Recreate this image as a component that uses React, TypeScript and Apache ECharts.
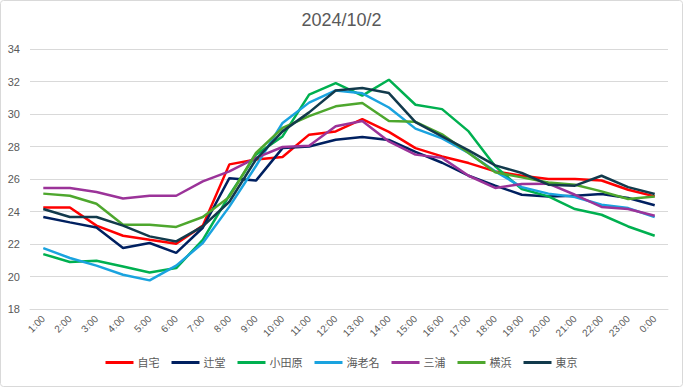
import React, { useEffect, useRef } from "react";
import * as echarts from "echarts";

const hours = ["1:00","2:00","3:00","4:00","5:00","6:00","7:00","8:00","9:00","10:00","11:00","12:00","13:00","14:00","15:00","16:00","17:00","18:00","19:00","20:00","21:00","22:00","23:00","0:00"];

const jitaku = [24.25, 24.25, 23.13, 22.51, 22.26, 22.02, 23.13, 26.9, 27.2, 27.35, 28.73, 28.93, 29.69, 28.9, 27.9, 27.39, 26.98, 26.47, 26.2, 26.0, 26.0, 25.91, 25.34, 24.93];
const tsujido = [23.66, 23.33, 23.02, 21.75, 22.06, 21.45, 23.0, 26.05, 25.9, 27.9, 28.0, 28.42, 28.58, 28.4, 27.67, 27.0, 26.2, 25.59, 25.03, 24.93, 24.97, 25.08, 24.83, 24.38];
const odawara = [21.38, 20.89, 20.97, 20.62, 20.25, 20.52, 22.26, 25.0, 27.5, 28.62, 31.19, 31.9, 31.13, 32.11, 30.57, 30.3, 28.93, 26.78, 25.38, 24.93, 24.15, 23.8, 23.08, 22.51];
const ebina = [21.75, 21.14, 20.67, 20.11, 19.76, 20.67, 22.06, 24.3, 26.8, 29.45, 30.7, 31.45, 31.27, 30.4, 29.1, 28.5, 27.6, 26.47, 25.5, 25.1, 24.89, 24.42, 24.21, 23.66];
const miura = [25.45, 25.45, 25.2, 24.8, 24.97, 24.97, 25.85, 26.47, 27.3, 27.97, 28.05, 29.24, 29.57, 28.31, 27.5, 27.3, 26.2, 25.45, 25.69, 25.71, 25.03, 24.28, 24.15, 23.74];
const yokohama = [25.1, 24.97, 24.48, 23.19, 23.19, 23.05, 23.66, 24.9, 27.6, 29.14, 29.87, 30.47, 30.68, 29.57, 29.52, 28.75, 27.6, 26.41, 26.1, 25.79, 25.65, 25.24, 24.77, 24.93];
const tokyo = [24.15, 23.66, 23.66, 23.13, 22.47, 22.16, 23.08, 24.6, 27.2, 28.93, 30.1, 31.45, 31.6, 31.29, 29.5, 28.62, 27.76, 26.84, 26.37, 25.65, 25.59, 26.2, 25.5, 25.08];

const seriesNames = ["自宅", "辻堂", "小田原", "海老名", "三浦", "横浜", "東京"];
const seriesData = [jitaku, tsujido, odawara, ebina, miura, yokohama, tokyo];
const seriesColors = ["#FF0000", "#002060", "#00B050", "#1AA3DF", "#9B3399", "#4EA72E", "#123A4C"];

const FONT = '"Liberation Sans", "Noto Sans CJK JP", sans-serif';

export default function App() {
  const ref = useRef<HTMLDivElement>(null);
  useEffect(() => {
    if (!ref.current) return;
    const chart = echarts.init(ref.current, undefined, { renderer: "svg" });
    chart.setOption({
      animation: false,
      backgroundColor: "#FFFFFF",
      textStyle: { fontFamily: FONT },
      title: {
        text: "2024/10/2",
        left: "center",
        top: 11,
        padding: 0,
        textStyle: { fontSize: 18, fontWeight: "normal", color: "#595959", fontFamily: FONT },
      },
      graphic: [
        {
          type: "rect",
          shape: { x: 0.5, y: 0.5, width: 682, height: 386, r: 3 },
          style: { fill: "none", stroke: "#D9D9D9", lineWidth: 1 },
          silent: true,
          z: -1,
        },
      ],
      legend: {
        bottom: 14,
        left: "center",
        icon: "rect",
        itemWidth: 28,
        itemHeight: 3,
        itemGap: 12,
        textStyle: { fontSize: 11, color: "#595959", fontFamily: FONT, padding: [0, 0, 0, -1] },
        data: seriesNames,
      },
      grid: { left: 30, right: 15, top: 49, bottom: 78, containLabel: false },
      xAxis: {
        type: "category",
        data: hours,
        boundaryGap: true,
        axisLine: { show: true, lineStyle: { color: "#D9D9D9", width: 1 } },
        axisTick: { show: false },
        axisLabel: { rotate: 45, fontSize: 10, color: "#595959", margin: 8, interval: 0, fontFamily: FONT },
      },
      yAxis: {
        type: "value",
        min: 18,
        max: 34,
        interval: 2,
        axisLine: { show: false },
        axisTick: { show: false },
        splitLine: { lineStyle: { color: "#D9D9D9", width: 1 } },
        axisLabel: { fontSize: 11, color: "#595959", margin: 10, fontFamily: FONT },
      },
      series: seriesNames.map((name, i) => ({
        name,
        type: "line",
        data: seriesData[i],
        symbol: "none",
        smooth: false,
        lineStyle: { width: 2.5, color: seriesColors[i] },
        itemStyle: { color: seriesColors[i] },
      })),
    });
    return () => chart.dispose();
  }, []);
  return <div ref={ref} style={{ position: "fixed", left: 0, top: 0, width: 683, height: 387 }} />;
}
